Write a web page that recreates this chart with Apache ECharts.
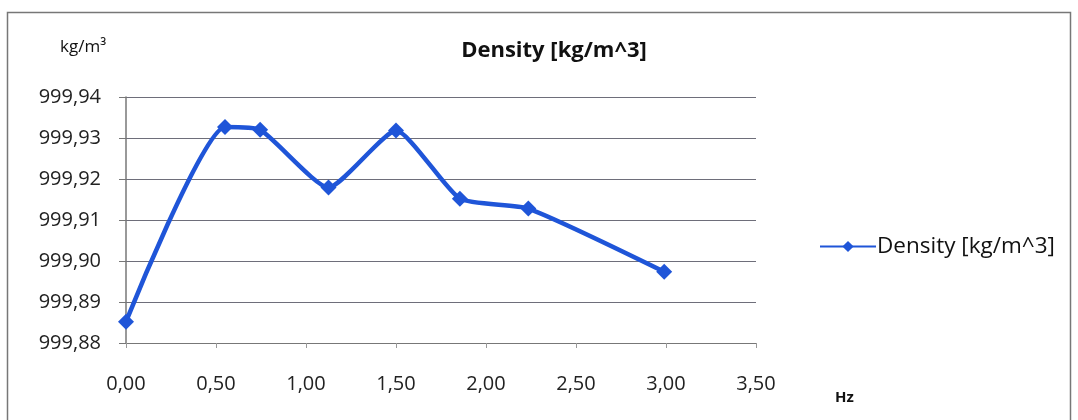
<!DOCTYPE html>
<html>
<head>
<meta charset="utf-8">
<script src="https://cdn.jsdelivr.net/npm/echarts@6/dist/echarts.min.js"></script>
<style>
  html, body { margin: 0; padding: 0; background: #fff; }
  #chart { width: 1078px; height: 420px; }
</style>
</head>
<body>
<div id="chart"></div>
<script>
// Measured density of water versus excitation frequency
const frequencyHz = [0.00, 0.55, 0.745, 1.125, 1.50, 1.855, 2.235, 2.99];
const densityKgM3 = [999.8852, 999.9327, 999.9320, 999.9179, 999.9318, 999.9152, 999.9128, 999.8974];
const seriesName = 'Density [kg/m^3]';
const titleText = 'Density [kg/m^3]';
const yUnit = 'kg/m³';
const xUnit = 'Hz';

const FONT = '"Open Sans", "Noto Sans", sans-serif';
const BLUE = '#1f55d8';
const comma = (v) => v.toFixed(2).replace('.', ',');

const chart = echarts.init(document.getElementById('chart'));
chart.setOption({
  animation: false,
  backgroundColor: '#ffffff',
  title: {
    text: titleText,
    left: 549,
    top: 35,
    textAlign: 'center',
    textStyle: { fontFamily: FONT, fontSize: 22, fontWeight: 'bold', color: '#111' }
  },
  legend: {
    data: [seriesName],
    left: 814,
    top: 230,
    itemWidth: 56,
    itemHeight: 14,
    itemGap: 2,
    textStyle: { fontFamily: FONT, fontSize: 22.5, color: '#111', padding: [0, 0, 0, -4] }
  },
  graphic: [
    {
      type: 'rect',
      shape: { x: 7.5, y: 12.5, width: 1063, height: 440 },
      style: { fill: 'none', stroke: '#777', lineWidth: 1.5 },
      silent: true
    },
    {
      type: 'text',
      left: 60, top: 39,
      style: { text: yUnit, font: '17px ' + FONT, fill: '#111' }
    },
    {
      type: 'text',
      left: 835, top: 390,
      style: { text: xUnit, font: 'bold 15px ' + FONT, fill: '#111' }
    }
  ],
  grid: { left: 126, right: 322, top: 97, bottom: 77, containLabel: false },
  xAxis: {
    type: 'value',
    min: 0, max: 3.5, interval: 0.5,
    axisLine: { show: true, onZero: false, lineStyle: { color: '#777', width: 1 } },
    axisTick: { show: true, length: 5, lineStyle: { color: '#999' } },
    splitLine: { show: false },
    axisLabel: { formatter: comma, margin: 31, fontFamily: FONT, fontSize: 20, color: '#222' }
  },
  yAxis: {
    type: 'value',
    min: 999.88, max: 999.94, interval: 0.01,
    axisLine: { show: true, lineStyle: { color: '#777', width: 1.5 } },
    axisTick: { show: true, length: 7, lineStyle: { color: '#777' } },
    splitLine: { show: true, lineStyle: { color: '#6e6e7a', width: 1 } },
    axisLabel: { formatter: comma, margin: 25, fontFamily: FONT, fontSize: 20, color: '#222' }
  },
  series: [{
    name: seriesName,
    type: 'line',
    data: frequencyHz.map((f, i) => [f, densityKgM3[i]]),
    smooth: 0.18,
    clip: false,
    symbol: 'diamond',
    symbolSize: 16,
    lineStyle: { color: BLUE, width: 4.5 },
    itemStyle: { color: BLUE }
  }]
});
</script>
</body>
</html>
